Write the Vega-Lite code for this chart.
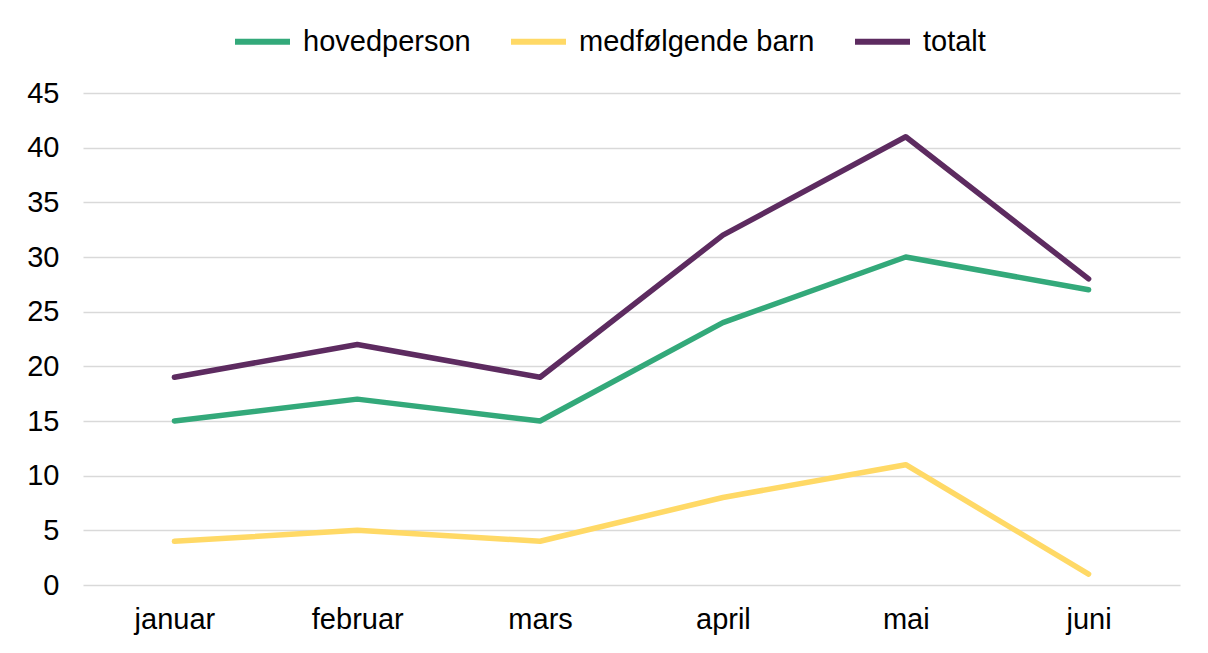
{
  "$schema": "https://vega.github.io/schema/vega-lite/v6.json",
  "width": 1097,
  "height": 492,
  "autosize": {"type": "none"},
  "padding": {"left": 83, "top": 93, "right": 28, "bottom": 68},
  "background": "#ffffff",
  "config": {
    "view": {"stroke": null},
    "font": "Liberation Sans",
    "axis": {"labelFont": "Liberation Sans", "labelFontSize": 29, "labelColor": "#000000", "gridColor": "#d9d9d9", "gridWidth": 1.5, "domain": false, "ticks": false},
    "legend": {"labelFont": "Liberation Sans", "labelFontSize": 29, "labelColor": "#000000", "labelLimit": 0}
  },
  "data": {
    "values": [
      {"maaned": "januar", "serie": "hovedperson", "verdi": 15},
      {"maaned": "februar", "serie": "hovedperson", "verdi": 17},
      {"maaned": "mars", "serie": "hovedperson", "verdi": 15},
      {"maaned": "april", "serie": "hovedperson", "verdi": 24},
      {"maaned": "mai", "serie": "hovedperson", "verdi": 30},
      {"maaned": "juni", "serie": "hovedperson", "verdi": 27},
      {"maaned": "januar", "serie": "medfølgende barn", "verdi": 4},
      {"maaned": "februar", "serie": "medfølgende barn", "verdi": 5},
      {"maaned": "mars", "serie": "medfølgende barn", "verdi": 4},
      {"maaned": "april", "serie": "medfølgende barn", "verdi": 8},
      {"maaned": "mai", "serie": "medfølgende barn", "verdi": 11},
      {"maaned": "juni", "serie": "medfølgende barn", "verdi": 1},
      {"maaned": "januar", "serie": "totalt", "verdi": 19},
      {"maaned": "februar", "serie": "totalt", "verdi": 22},
      {"maaned": "mars", "serie": "totalt", "verdi": 19},
      {"maaned": "april", "serie": "totalt", "verdi": 32},
      {"maaned": "mai", "serie": "totalt", "verdi": 41},
      {"maaned": "juni", "serie": "totalt", "verdi": 28}
    ]
  },
  "mark": {"type": "line", "strokeWidth": 5.5, "strokeCap": "round", "strokeJoin": "round"},
  "encoding": {
    "x": {
      "field": "maaned",
      "type": "nominal",
      "sort": ["januar", "februar", "mars", "april", "mai", "juni"],
      "scale": {"type": "point", "padding": 0.5},
      "axis": {"title": null, "labelAngle": 0, "grid": false, "labelPadding": 20}
    },
    "y": {
      "field": "verdi",
      "type": "quantitative",
      "scale": {"domain": [0, 45], "nice": false},
      "axis": {"title": null, "values": [0, 5, 10, 15, 20, 25, 30, 35, 40, 45], "labelPadding": 24}
    },
    "color": {
      "field": "serie",
      "type": "nominal",
      "scale": {"domain": ["hovedperson", "medfølgende barn", "totalt"], "range": ["#33a97a", "#ffd966", "#5d2b60"]},
      "legend": {
        "title": null,
        "orient": "none",
        "direction": "horizontal",
        "legendX": 149,
        "legendY": -82,
        "symbolType": "stroke",
        "symbolSize": 3025,
        "symbolStrokeWidth": 6,
        "labelOffset": 10,
        "columnPadding": 28
      }
    }
  }
}
